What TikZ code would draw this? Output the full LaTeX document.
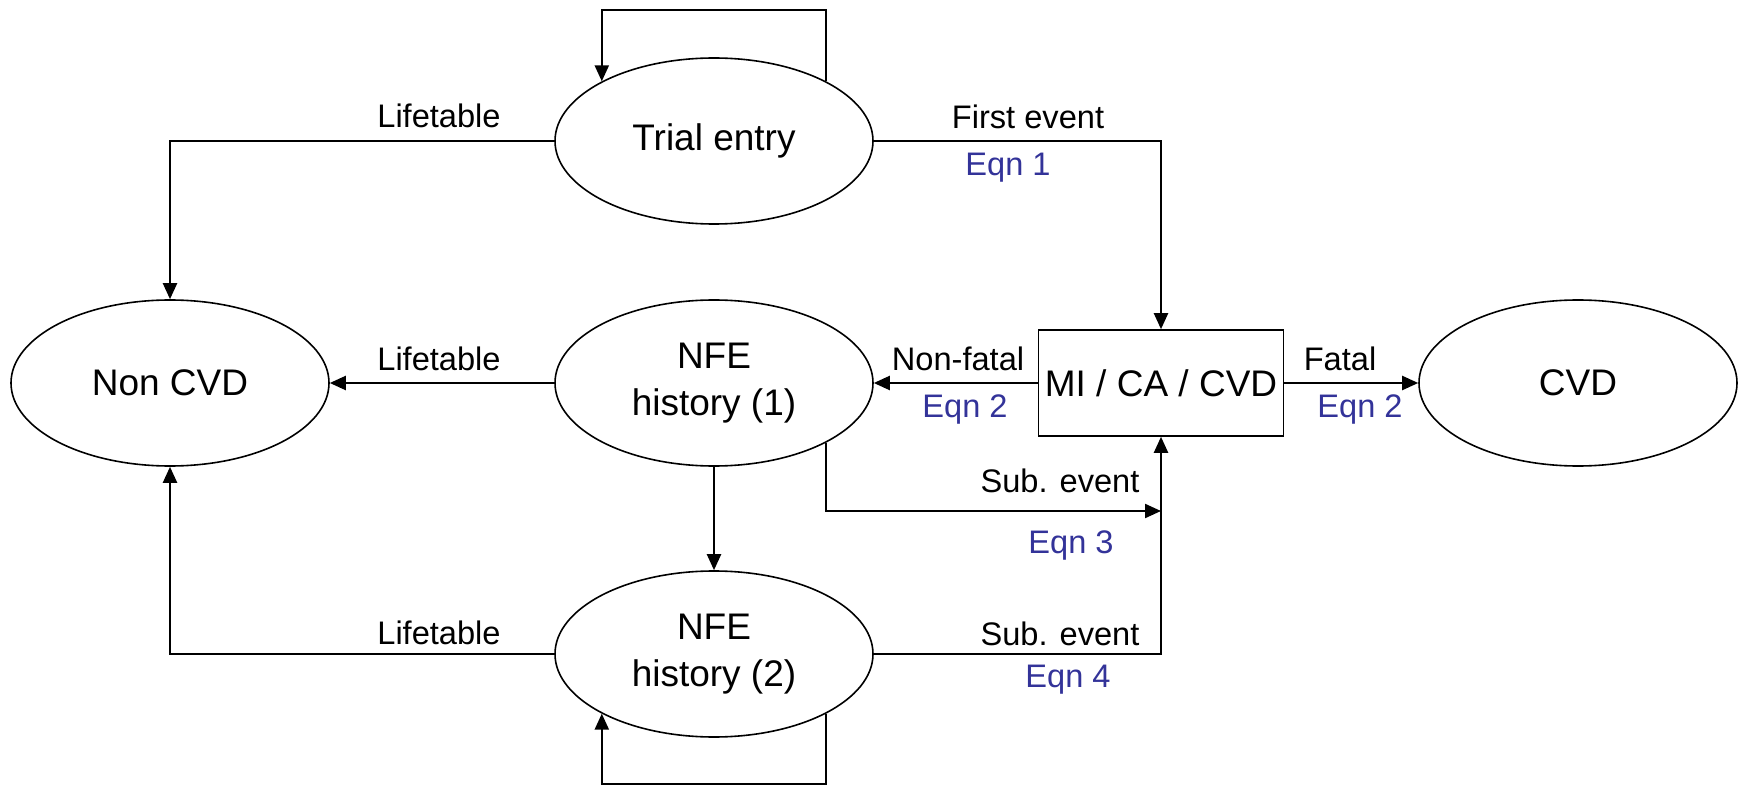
\documentclass[tikz,border=0pt]{standalone}
\usepackage{fontspec}
\setmainfont{Liberation Sans}
\usetikzlibrary{shapes.geometric,arrows.meta}
\definecolor{eqn_blue}{RGB}{51,51,153}

\begin{document}
\begin{tikzpicture}[->,line width=1.1pt,>={Triangle[length=8pt,width=7pt]},x=0.5pt,y=-0.5pt]
    \tikzstyle{state}=[draw, ellipse, line width=0.8pt, minimum width=159pt, minimum height=83pt, inner sep=0pt, align=center, font=\fontsize{18.5}{23.5}\selectfont]
    \tikzstyle{event}=[draw, rectangle, line width=0.8pt, minimum width=122.5pt, minimum height=53pt, inner sep=0pt, font=\fontsize{18.5}{23.5}\selectfont]
    \tikzstyle{lbl}=[font=\fontsize{16.3}{19}\selectfont, inner sep=0pt]
    \tikzstyle{eqn}=[style=lbl, text=eqn_blue]

    \useasboundingbox (0,0) rectangle (1741,786);

    \node[state] (trial)  at (714,141)  {Trial entry};
    \node[state] (noncvd) at (170,383)  {Non CVD};
    \node[state] (nfeone) at (714,383)  {NFE\\history (1)};
    \node[state] (nfetwo) at (714,654)  {NFE\\history (2)};
    \node[event] (mica)   at (1161,383) {MI / CA / CVD};
    \node[state] (cvd)    at (1578,383) {CVD};

    \coordinate (looptop) at (714,10);
    \coordinate (loopbot) at (714,784);
    \coordinate (merge)   at (1161,511);

    % labels
    \node[lbl] (lt1) at (439,116)  {Lifetable};
    \node[lbl] (lt2) at (439,359)  {Lifetable};
    \node[lbl] (lt3) at (439,633)  {Lifetable};
    \node[lbl] (fe)  at (1028,117) {First event};
    \node[eqn] (e1)  at (1008,168) {Eqn 1};
    \node[lbl] (nf)  at (958,359)  {Non-fatal};
    \node[eqn] (e2a) at (965,410)  {Eqn 2};
    \node[lbl] (ft)  at (1340,359) {Fatal};
    \node[eqn] (e2b) at (1360,410) {Eqn 2};
    \node[lbl] (se1) at (1060,481) {Sub. event};
    \node[eqn] (e3)  at (1071,545) {Eqn 3};
    \node[lbl] (se2) at (1060,634) {Sub. event};
    \node[eqn] (e4)  at (1068,680) {Eqn 4};

    \draw (trial.28) |- (looptop) -| (trial.152);
    \draw (trial.west) -| (noncvd.north);
    \draw (trial.east) -| (mica.north);
    \draw (nfeone.west) -- (noncvd.east);
    \draw (mica.west) -- (nfeone.east);
    \draw (mica.east) -- (cvd.west);
    \draw (nfeone.332) |- (merge);
    \draw (nfeone.south) -- (nfetwo.north);
    \draw (nfetwo.east) -| (mica.south);
    \draw (nfetwo.west) -| (noncvd.south);
    \draw (nfetwo.332) |- (loopbot) -| (nfetwo.208);
\end{tikzpicture}
\end{document}
